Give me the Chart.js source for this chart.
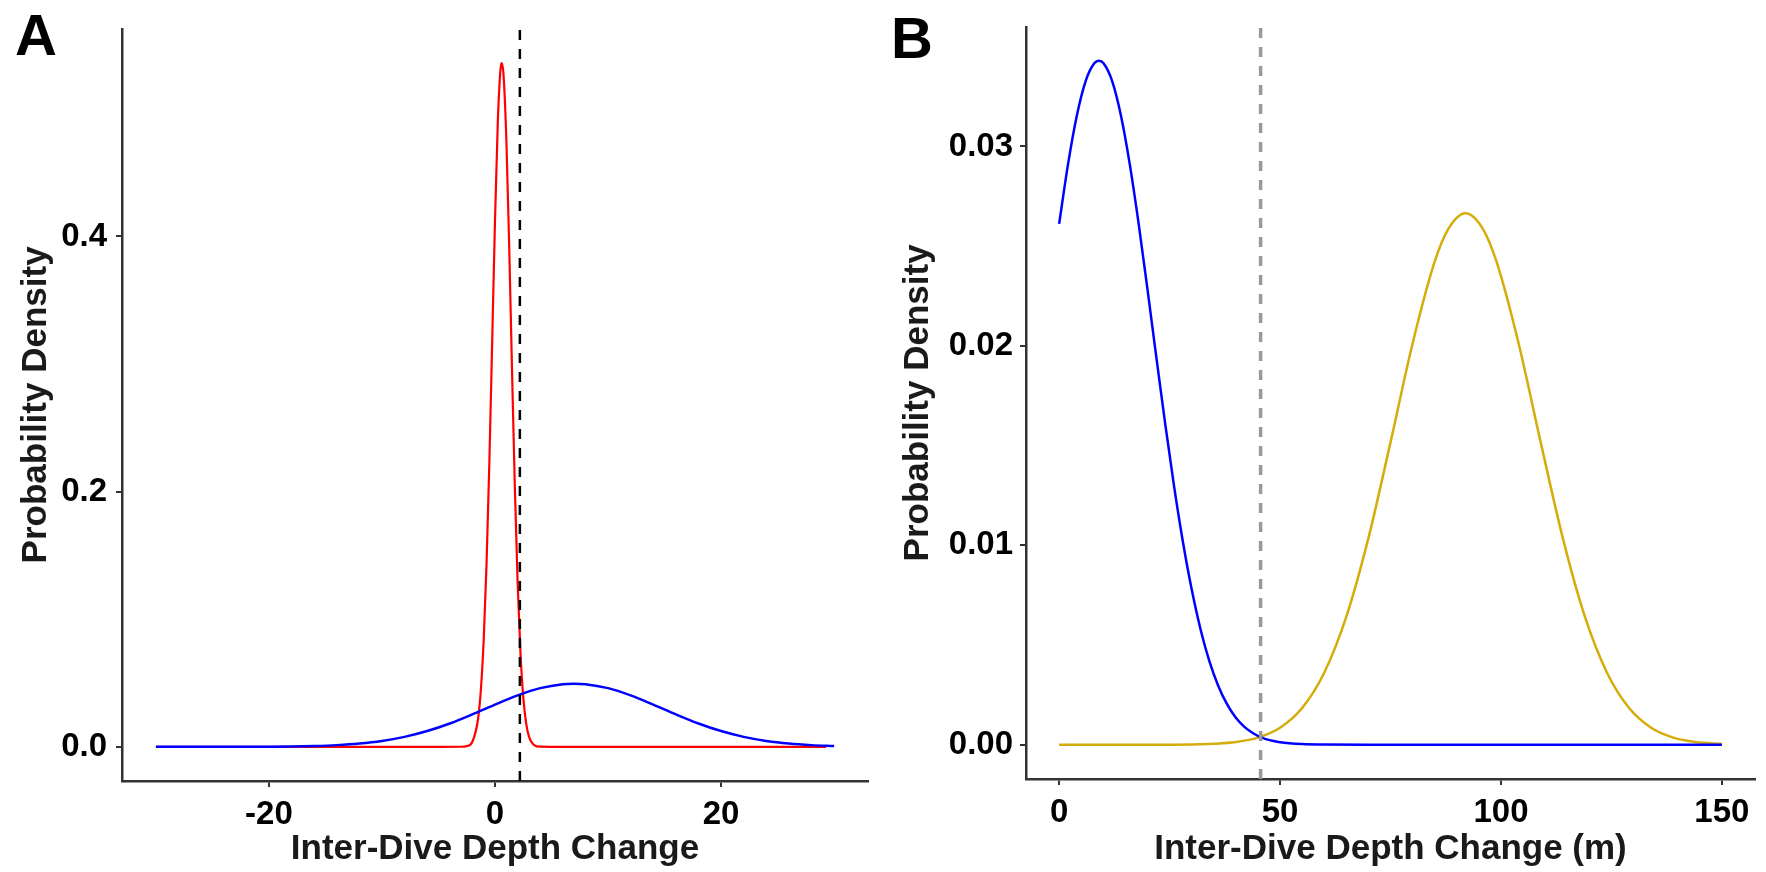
<!DOCTYPE html>
<html>
<head>
<meta charset="utf-8">
<script src="https://cdn.jsdelivr.net/npm/chart.js@4.4.1/dist/chart.umd.min.js"></script>
<style>
  html, body { margin: 0; padding: 0; background: #fff; }
  body { width: 1766px; height: 872px; position: relative; overflow: hidden; }
  canvas { position: absolute; top: 0; }
  .panel-label { position: absolute; font-family: 'Liberation Sans', Arial, sans-serif; font-weight: bold; font-size: 58px; line-height: 58px; color: #000; }
</style>
</head>
<body>
<div class="panel-label" style="left:15px; top:6px;">A</div>
<div class="panel-label" style="left:891px; top:9px;">B</div>
<canvas id="chartA" width="880" height="872" style="left:0px;"></canvas>
<canvas id="chartB" width="886" height="872" style="left:880px;"></canvas>
<script>
// ---------- Panel A data ----------
const xTitleA = 'Inter-Dive Depth Change';
const yTitleA = 'Probability Density';
const xTicksA = [-20, 0, 20];
const xTickLabelsA = ['-20', '0', '20'];
const yTicksA = [0, 0.2, 0.4];
const yTickLabelsA = ['0.0', '0.2', '0.4'];
const xRangeA = [-33, 33];
const yRangeA = [-0.0268, 0.5628];
const thresholdA = 2.2;

const redXA = [-30, -20, -10, -5, -3, -2.5, -2, -1.5, -1.25, -1, -0.75, -0.5, -0.25, 0, 0.25, 0.5, 0.6, 0.75, 1, 1.25, 1.5, 1.75, 2, 2.25, 2.5, 2.75, 3, 3.5, 4, 5, 10, 20, 29.3];
const redYA = [0, 0, 0, 0, 0.00004, 0.0005, 0.0040, 0.0218, 0.0447, 0.0837, 0.1428, 0.2227, 0.3173, 0.4128, 0.4904, 0.5321, 0.536, 0.5273, 0.4773, 0.3945, 0.2977, 0.2052, 0.1292, 0.0743, 0.0390, 0.0187, 0.0082, 0.0012, 0.0001, 0, 0, 0, 0];

const blueXA = [-30, -26, -22, -20, -18, -16, -14, -12, -10, -8, -6, -4, -2, 0, 2, 4, 6, 7, 8, 10, 12, 14, 16, 18, 20, 22, 24, 26, 28, 30];
const blueYA = [0, 0, 0.00003, 0.00012, 0.00029, 0.00064, 0.00132, 0.00255, 0.0046, 0.00779, 0.01235, 0.0183, 0.02544, 0.0331, 0.0403, 0.0460, 0.0491, 0.0495, 0.0491, 0.0460, 0.0403, 0.0331, 0.02544, 0.0183, 0.01235, 0.00779, 0.0046, 0.00255, 0.00132, 0.00064];

// ---------- Panel B data ----------
const xTitleB = 'Inter-Dive Depth Change (m)';
const yTitleB = 'Probability Density';
const xTicksB = [0, 50, 100, 150];
const xTickLabelsB = ['0', '50', '100', '150'];
const yTicksB = [0, 0.01, 0.02, 0.03];
const yTickLabelsB = ['0.00', '0.01', '0.02', '0.03'];
const xRangeB = [-7.5, 157.5];
const yRangeB = [-0.00172, 0.0360];
const thresholdB = 45.6;

const blueXB = [0, 2, 4, 6, 8, 9, 10, 12, 14, 16, 18, 20, 22, 24, 26, 28, 30, 32, 34, 36, 38, 40, 42, 44, 46, 48, 50, 55, 60, 70, 90, 110, 130, 150];
const blueYB = [0.02612, 0.02909, 0.03154, 0.03328, 0.03418, 0.0343, 0.03418, 0.03328, 0.03154, 0.02909, 0.02612, 0.02283, 0.01943, 0.0161, 0.01298, 0.01019, 0.00779, 0.00579, 0.00419, 0.00296, 0.00203, 0.00135, 0.00088, 0.00056, 0.00034, 0.00021, 0.00012, 0.00003, 0.00001, 0, 0, 0, 0, 0];

const goldXB = [0, 20, 30, 35, 40, 45, 50, 55, 60, 65, 70, 75, 80, 85, 88, 92, 96, 99, 104, 109, 114, 119, 124, 129, 134, 139, 144, 150];
const goldYB = [0, 0.000001, 0.000015, 0.000047, 0.000135, 0.000356, 0.00085, 0.00184, 0.00361, 0.00642, 0.01036, 0.01516, 0.02012, 0.02422, 0.02583, 0.02665, 0.02583, 0.02422, 0.02012, 0.01516, 0.01036, 0.00642, 0.00361, 0.00184, 0.00085, 0.000356, 0.000135, 0.00004];

// ---------- helpers ----------
const FONT = "'Liberation Sans', Arial, sans-serif";
const toPts = (xs, ys) => xs.map((x, i) => ({ x: x, y: ys[i] }));

function curve(xs, ys, color, width) {
  return {
    data: toPts(xs, ys),
    borderColor: color,
    borderWidth: width,
    pointRadius: 0,
    fill: false,
    cubicInterpolationMode: 'monotone'
  };
}
function vline(x, yr, color, width, dash) {
  return {
    data: [{ x: x, y: yr[0] }, { x: x, y: yr[1] }],
    borderColor: color,
    borderWidth: width,
    borderDash: dash,
    pointRadius: 0,
    fill: false
  };
}

function makeOptions(cfg) {
  return {
    responsive: false,
    animation: false,
    devicePixelRatio: 1,
    layout: { padding: { left: 0, right: cfg.padRight, top: cfg.padTop, bottom: 0 } },
    plugins: { legend: { display: false }, tooltip: { enabled: false } },
    scales: {
      x: {
        type: 'linear',
        min: cfg.xRange[0], max: cfg.xRange[1],
        bounds: 'data',
        border: { display: true, color: '#333', width: 2.5 },
        grid: { drawOnChartArea: false, drawTicks: true, tickLength: 6, color: '#333', lineWidth: 2 },
        afterBuildTicks: (s) => { s.ticks = cfg.xTicks.map(v => ({ value: v })); },
        afterFit: (s) => { s.height = cfg.xHeight; },
        ticks: {
          autoSkip: false, maxRotation: 0, padding: 8, color: '#000',
          font: { family: FONT, size: 33, weight: 'bold' },
          callback: (v, i) => cfg.xLabels[i]
        },
        title: {
          display: true, text: cfg.xTitle, color: '#1a1a1a',
          font: { family: FONT, size: 35, weight: 'bold' },
          padding: { top: 0, bottom: 2 }
        }
      },
      y: {
        type: 'linear',
        min: cfg.yRange[0], max: cfg.yRange[1],
        bounds: 'data',
        border: { display: true, color: '#333', width: 2.5 },
        grid: { drawOnChartArea: false, drawTicks: true, tickLength: 6, color: '#333', lineWidth: 2 },
        afterBuildTicks: (s) => { s.ticks = cfg.yTicks.map(v => ({ value: v })); },
        afterFit: (s) => { s.width = cfg.yWidth; },
        ticks: {
          autoSkip: false, padding: cfg.yTickPad, color: '#000',
          font: { family: FONT, size: 33, weight: 'bold' },
          callback: (v, i) => cfg.yLabels[i]
        },
        title: {
          display: true, text: cfg.yTitle, color: '#1a1a1a',
          font: { family: FONT, size: 35, weight: 'bold' },
          padding: { top: cfg.yTitlePad, bottom: 0 }
        }
      }
    }
  };
}

new Chart(document.getElementById('chartA'), {
  type: 'line',
  data: {
    datasets: [
      vline(thresholdA, yRangeA, '#000000', 2.5, [10, 9]),
      curve(blueXA, blueYA, '#0000ff', 2.5),
      curve(redXA, redYA, '#ff0000', 2.2)
    ]
  },
  options: makeOptions({
    padRight: 12, padTop: 17, xHeight: 91, yWidth: 122, yTickPad: 9, yTitlePad: 15,
    xRange: xRangeA, yRange: yRangeA, xTicks: xTicksA, yTicks: yTicksA,
    xLabels: xTickLabelsA, yLabels: yTickLabelsA, xTitle: xTitleA, yTitle: yTitleA
  })
});

new Chart(document.getElementById('chartB'), {
  type: 'line',
  data: {
    datasets: [
      vline(thresholdB, yRangeB, '#999999', 3.5, [10, 9]),
      curve(blueXB, blueYB, '#0000ff', 2.5),
      curve(goldXB, goldYB, '#d4ad0a', 2.5)
    ]
  },
  options: makeOptions({
    padRight: 11, padTop: 13, xHeight: 93, yWidth: 146, yTickPad: 7, yTitlePad: 17,
    xRange: xRangeB, yRange: yRangeB, xTicks: xTicksB, yTicks: yTicksB,
    xLabels: xTickLabelsB, yLabels: yTickLabelsB, xTitle: xTitleB, yTitle: yTitleB
  })
});
</script>
</body>
</html>
